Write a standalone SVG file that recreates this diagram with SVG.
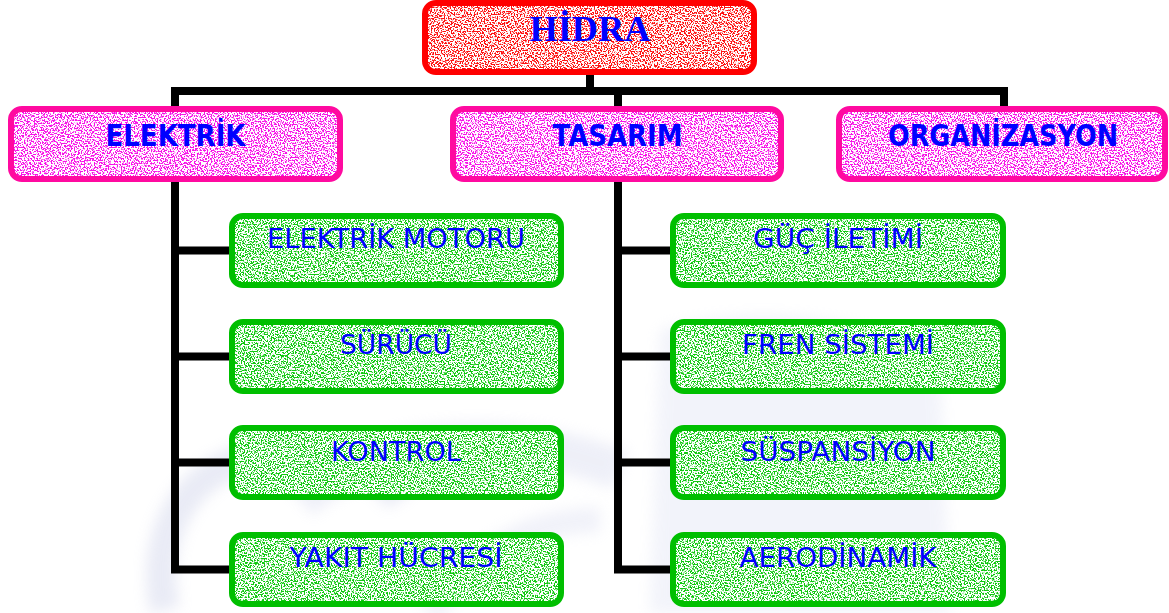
<svg xmlns="http://www.w3.org/2000/svg" width="1169" height="613" viewBox="0 0 1169 613">
<style>
.fill{filter:url(#spk);}
.red-b{fill:none;stroke:#ff0000;stroke-width:6;}
.mag-b{fill:none;stroke:#ff0aa0;stroke-width:6;}
.grn-b{fill:none;stroke:#00bf00;stroke-width:6;}
.red-f{fill:#ff1010;}
.mag-f{fill:#f810e8;}
.grn-f{fill:#10c810;}
.t1{font-family:"DejaVu Sans","Liberation Sans",sans-serif;font-weight:bold;font-size:30px;fill:#0000ff;text-anchor:middle;}
.t2{font-family:"DejaVu Sans","Liberation Sans",sans-serif;font-size:27px;fill:#0000ff;text-anchor:middle;}
.t0{font-family:"Liberation Serif","DejaVu Serif",serif;font-weight:bold;font-size:35px;fill:#0000ff;text-anchor:middle;}
.conn{fill:none;stroke:#000;stroke-width:8;stroke-linejoin:miter;stroke-linecap:square;}
</style>
<defs>
<filter id="spk" x="0" y="0" width="100%" height="100%" color-interpolation-filters="sRGB">
<feTurbulence type="fractalNoise" baseFrequency="0.7" numOctaves="1" seed="7" result="n"/>
<feColorMatrix in="n" type="matrix" values="0 0 0 0 1  0 0 0 0 1  0 0 0 0 1  12 0 0 0 -5.2" result="w"/>
<feComposite in="w" in2="SourceAlpha" operator="in" result="wc"/>
<feMerge><feMergeNode in="SourceGraphic"/><feMergeNode in="wc"/></feMerge>
</filter>
<filter id="blur" x="-20%" y="-20%" width="140%" height="140%"><feGaussianBlur stdDeviation="7"/></filter>
</defs>
<rect width="1169" height="613" fill="#ffffff"/>
<g id="watermark" filter="url(#blur)" opacity="0.3" fill="none" stroke="#b8bee0">
<path d="M165,610 C150,540 180,470 260,455 C330,445 380,470 400,500" stroke-width="30"/>
<path d="M300,500 C380,430 520,430 620,470" stroke-width="40" stroke="#c8cce8"/>
<path d="M660,330 C760,300 880,320 940,360 L950,613 L650,613 Z" fill="#d6daf0" stroke="none"/>
<path d="M430,613 C470,560 520,520 600,520" stroke-width="25" stroke="#d0d4ec"/>
</g>
<g id="connectors">
<path class="conn" d="M590,72 V91"/>
<path class="conn" d="M175,110 V91 H1004 V110"/>
<path class="conn" d="M618,91 V110"/>
<path class="conn" d="M175,180 V569.5 H232"/>
<path class="conn" d="M175,250.5 H232 M175,356.5 H232 M175,462.5 H232"/>
<path class="conn" d="M618,180 V569.5 H673"/>
<path class="conn" d="M618,250.5 H673 M618,356.5 H673 M618,462.5 H673"/>
</g>
<g id="hidra">
<rect class="fill red-f" x="425" y="3" width="329" height="69" rx="11"/>
<rect class="red-b" x="425" y="3" width="329" height="69" rx="11"/>
<text class="t0" x="590" y="41" textLength="121" lengthAdjust="spacingAndGlyphs">HİDRA</text>
</g>
<g id="elektrik">
<rect class="fill mag-f" x="11" y="109" width="329" height="70" rx="11"/>
<rect class="mag-b" x="11" y="109" width="329" height="70" rx="11"/>
<text class="t1" x="175.5" y="146" textLength="140" lengthAdjust="spacingAndGlyphs">ELEKTRİK</text>
</g>
<g id="tasarim">
<rect class="fill mag-f" x="453" y="109" width="328" height="70" rx="11"/>
<rect class="mag-b" x="453" y="109" width="328" height="70" rx="11"/>
<text class="t1" x="617.5" y="146" textLength="130" lengthAdjust="spacingAndGlyphs">TASARIM</text>
</g>
<g id="organizasyon">
<rect class="fill mag-f" x="839" y="109" width="326" height="70" rx="11"/>
<rect class="mag-b" x="839" y="109" width="326" height="70" rx="11"/>
<text class="t1" x="1003" y="146" textLength="230" lengthAdjust="spacingAndGlyphs">ORGANİZASYON</text>
</g>
<g id="elektrik-motoru">
<rect class="fill grn-f" x="232" y="216" width="329" height="69" rx="11"/>
<rect class="grn-b" x="232" y="216" width="329" height="69" rx="11"/>
<text class="t2" x="396" y="248" textLength="258" lengthAdjust="spacingAndGlyphs">ELEKTRİK MOTORU</text>
</g>
<g id="surucu">
<rect class="fill grn-f" x="232" y="322" width="329" height="69" rx="11"/>
<rect class="grn-b" x="232" y="322" width="329" height="69" rx="11"/>
<text class="t2" x="396" y="354" textLength="112" lengthAdjust="spacingAndGlyphs">SÜRÜCÜ</text>
</g>
<g id="kontrol">
<rect class="fill grn-f" x="232" y="428" width="329" height="69" rx="11"/>
<rect class="grn-b" x="232" y="428" width="329" height="69" rx="11"/>
<text class="t2" x="396" y="461" textLength="130" lengthAdjust="spacingAndGlyphs">KONTROL</text>
</g>
<g id="yakit-hucresi">
<rect class="fill grn-f" x="232" y="535" width="329" height="69" rx="11"/>
<rect class="grn-b" x="232" y="535" width="329" height="69" rx="11"/>
<text class="t2" x="396" y="567" textLength="213" lengthAdjust="spacingAndGlyphs">YAKIT HÜCRESİ</text>
</g>
<g id="guc-iletimi">
<rect class="fill grn-f" x="673" y="216" width="330" height="69" rx="11"/>
<rect class="grn-b" x="673" y="216" width="330" height="69" rx="11"/>
<text class="t2" x="838" y="248" textLength="170" lengthAdjust="spacingAndGlyphs">GÜÇ İLETİMİ</text>
</g>
<g id="fren-sistemi">
<rect class="fill grn-f" x="673" y="322" width="330" height="69" rx="11"/>
<rect class="grn-b" x="673" y="322" width="330" height="69" rx="11"/>
<text class="t2" x="838" y="354" textLength="192" lengthAdjust="spacingAndGlyphs">FREN SİSTEMİ</text>
</g>
<g id="suspansiyon">
<rect class="fill grn-f" x="673" y="428" width="330" height="69" rx="11"/>
<rect class="grn-b" x="673" y="428" width="330" height="69" rx="11"/>
<text class="t2" x="838" y="461" textLength="195" lengthAdjust="spacingAndGlyphs">SÜSPANSİYON</text>
</g>
<g id="aerodinamik">
<rect class="fill grn-f" x="673" y="535" width="330" height="69" rx="11"/>
<rect class="grn-b" x="673" y="535" width="330" height="69" rx="11"/>
<text class="t2" x="838" y="567" textLength="197" lengthAdjust="spacingAndGlyphs">AERODİNAMİK</text>
</g>
</svg>
